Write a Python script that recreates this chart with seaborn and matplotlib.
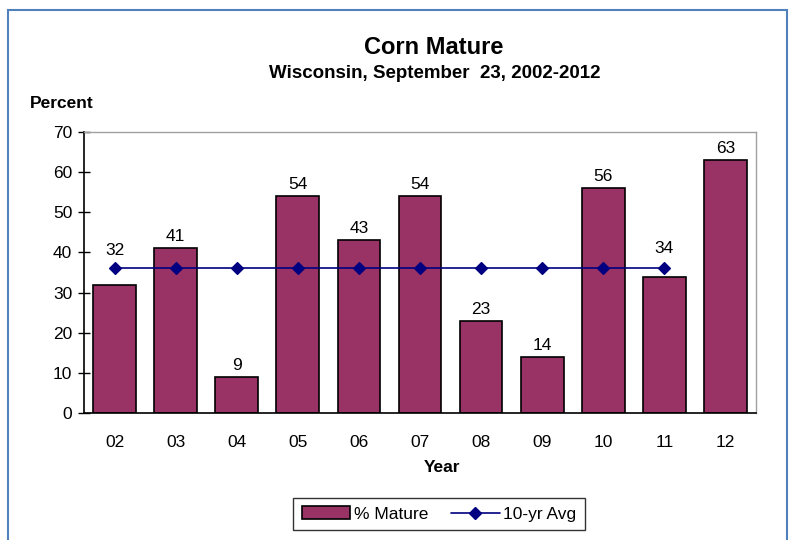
import seaborn as sns
import pandas as pd
import matplotlib.pyplot as plt
from matplotlib.lines import Line2D
from matplotlib.patches import Patch, Rectangle

years = ["02", "03", "04", "05", "06", "07", "08", "09", "10", "11", "12"]
pct_mature = [32, 41, 9, 54, 43, 54, 23, 14, 56, 34, 63]
avg_years = ["02", "03", "04", "05", "06", "07", "08", "09", "10", "11"]
avg_10yr = [36, 36, 36, 36, 36, 36, 36, 36, 36, 36]
# extra lift (points) for labels that would sit on the avg line
label_lift = [16, 0, 0, 0, 0, 0, 0, 0, 0, 12, 0]

BAR_COLOR = "#993366"
LINE_COLOR = "#000080"

sns.set_style("white")
plt.rcParams["font.family"] = ["Liberation Sans", "DejaVu Sans"]
plt.rcParams.update({"text.color": "black", "axes.labelcolor": "black",
                     "xtick.color": "black", "ytick.color": "black"})

bars = pd.DataFrame({"year": years, "pct": pct_mature})
avg = pd.DataFrame({"year": avg_years, "avg": avg_10yr})

fig = plt.figure(figsize=(7.96, 5.40), dpi=100)
ax = fig.add_axes([84 / 796, 1 - 413 / 540, (756 - 84) / 796, (413 - 132) / 540])

sns.barplot(data=bars, x="year", y="pct", order=years, color=BAR_COLOR,
            saturation=1, width=0.7, edgecolor="black", linewidth=1.2, ax=ax)
sns.pointplot(data=avg, x="year", y="avg", order=years, color=LINE_COLOR,
              markers="D", markersize=6, linewidth=1.2, ax=ax)

for i, v in enumerate(pct_mature):
    ax.annotate(str(v), (i, v), xytext=(0, 3 + label_lift[i]), textcoords="offset points",
                ha="center", va="bottom", fontsize=12.5)

ax.set_ylim(0, 70)
ax.set_xlim(-0.5, len(years) - 0.5)
ax.set_yticks(range(0, 71, 10))
ax.set_xticks([i + 0.5 for i in range(-1, len(years))], minor=False)
ax.set_xticklabels([])
ax.set_xticks(range(len(years)), minor=True)
ax.set_xticklabels(years, minor=True)
ax.tick_params(axis="x", which="major", direction="inout", length=9, width=1, color="black")
ax.tick_params(axis="x", which="minor", length=0, labelsize=12.5, pad=16)
ax.tick_params(axis="y", direction="inout", length=9, width=1, labelsize=12.5, pad=4, left=True)
ax.set_xlabel("Year", fontsize=12.5, fontweight="bold")
ax.xaxis.set_label_coords((442 - 84) / (756 - 84), -(467 - 413) / (413 - 132))
ax.xaxis.label.set_va("center")
ax.set_ylabel("")

for s in ["left", "bottom"]:
    ax.spines[s].set_color("black")
    ax.spines[s].set_linewidth(1.2)
for s in ["top", "right"]:
    ax.spines[s].set_color("#a0a0a0")
    ax.spines[s].set_linewidth(1.0)

fig.text(434 / 796, 1 - 47 / 540, "Corn Mature", ha="center", va="center",
         fontsize=17, fontweight="bold")
fig.text(435 / 796, 1 - 73 / 540, "Wisconsin, September  23, 2002-2012", ha="center",
         va="center", fontsize=13.5, fontweight="bold")
fig.text(30 / 796, 1 - 103 / 540, "Percent", ha="left", va="center",
         fontsize=12.5, fontweight="bold")

handles = [
    Patch(facecolor=BAR_COLOR, edgecolor="black", linewidth=1.2, label="% Mature"),
    Line2D([0], [0], color=LINE_COLOR, marker="D", markersize=6, linewidth=1.2,
           label="10-yr Avg"),
]
fig.legend(handles=handles, loc="center", bbox_to_anchor=(439 / 796, 1 - 514 / 540),
           ncol=2, frameon=True, fancybox=False, edgecolor="black", fontsize=12.5,
           handlelength=2.8, handletextpad=0.2, columnspacing=1.3, borderpad=0.5)

# outer chart border
fig.patches.append(Rectangle((8 / 796, -0.05), (787 - 8) / 796, 1 - 10 / 540 + 0.05,
                             transform=fig.transFigure, fill=False,
                             edgecolor="#4f81bd", linewidth=1.5))

fig.savefig("out.png", dpi=100)
